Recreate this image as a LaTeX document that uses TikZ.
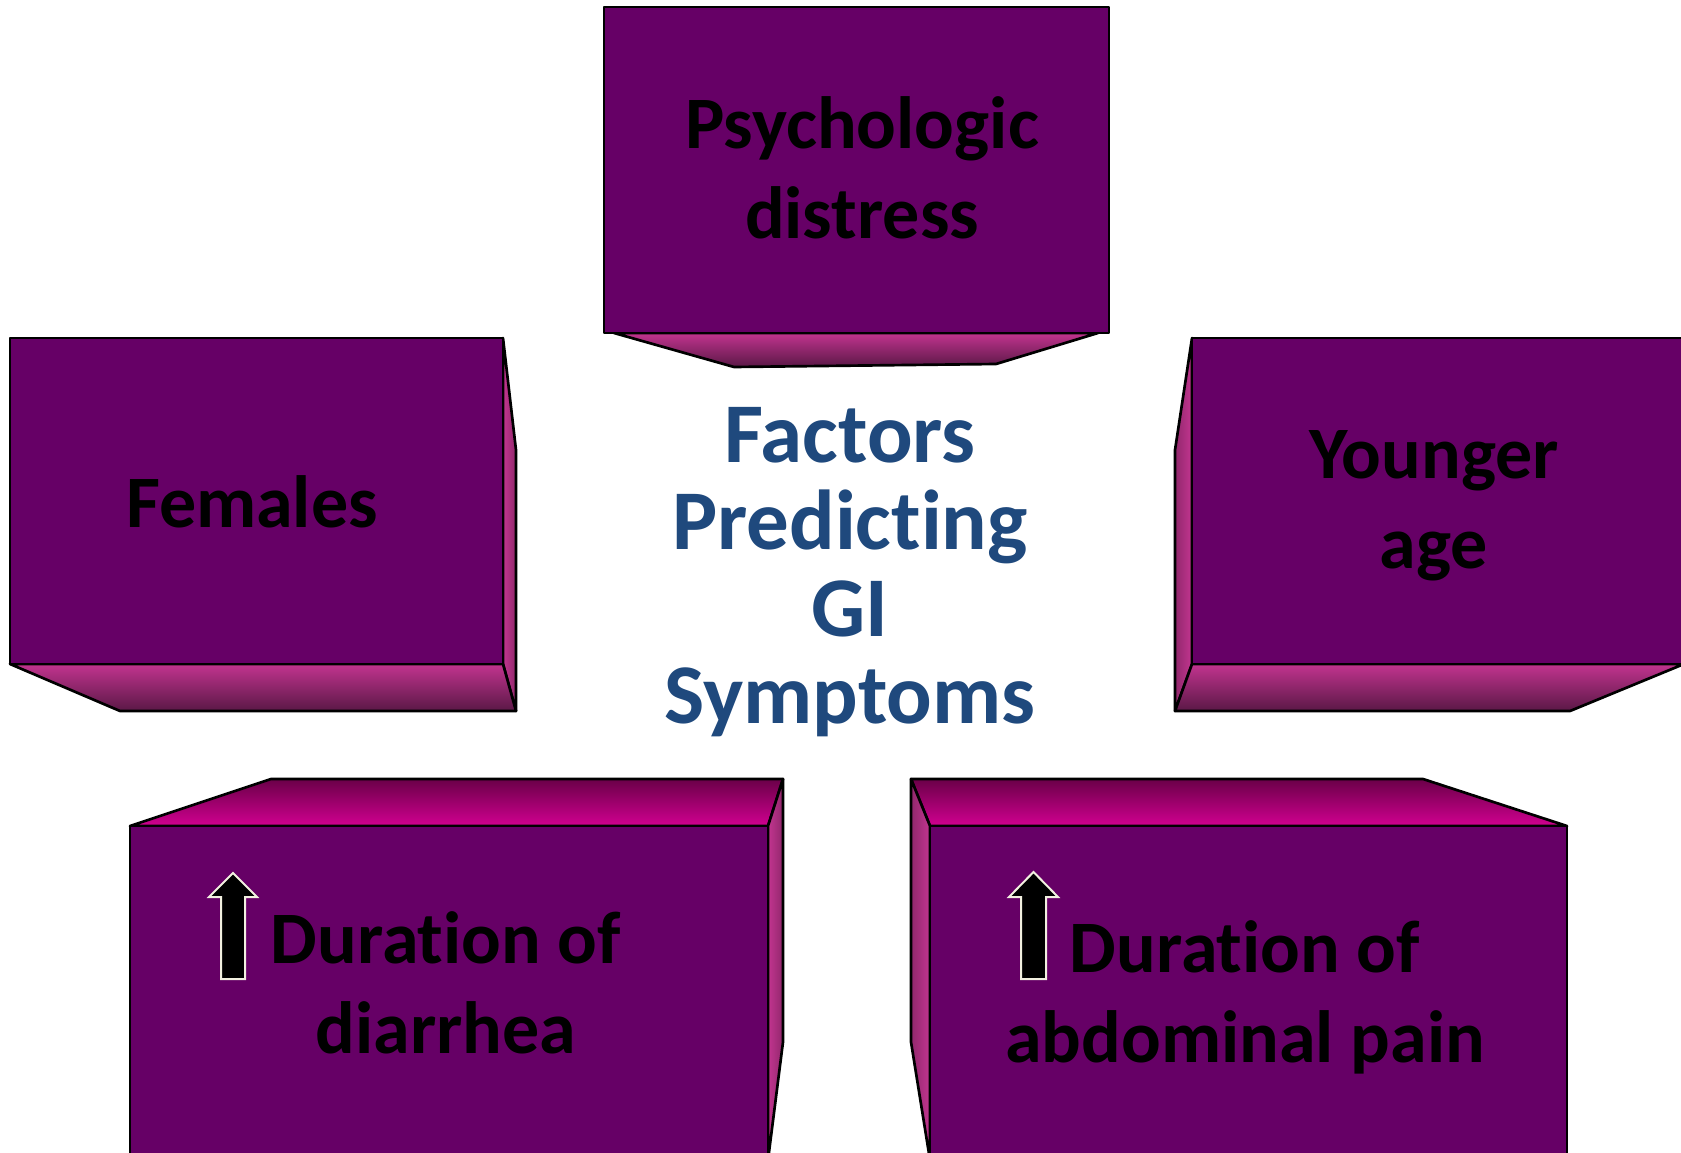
\documentclass[tikz,border=0pt]{standalone}
\usepackage{fontspec}
\setmainfont{Carlito}[Ligatures={NoCommon}]
\begin{document}
\begin{tikzpicture}[x=0.6pt,y=-0.6pt,line join=round]
\definecolor{boxfront}{HTML}{660066}
\definecolor{bevmag}{HTML}{C2348F}
\definecolor{bevdark}{HTML}{5A1846}
\definecolor{topdark}{HTML}{6A0048}
\definecolor{topmag}{HTML}{D10090}
\definecolor{sidemag}{HTML}{C23590}
\definecolor{titleblue}{HTML}{1F497D}
\definecolor{arrowedge}{HTML}{F2F0E0}
\tikzset{
  edge/.style={draw=black,line width=1.6pt},
  frontface/.style={fill=boxfront,draw=black,line width=1.6pt},
  underbevel/.style={edge,top color=bevmag,middle color=bevmag,bottom color=bevdark},
  overbevel/.style={edge,top color=topdark,middle color=topmag,bottom color=topmag},
  rightbevel/.style={edge,left color=sidemag,right color=sidemag!75!black},
  leftbevel/.style={edge,left color=sidemag!75!black,right color=sidemag},
  boxtext/.style={font=\fontsize{44.4}{54}\selectfont\bfseries,text=black,align=center,inner sep=0pt,anchor=base},
  titletext/.style={font=\fontsize{51}{52.2}\selectfont\bfseries,text=titleblue,align=center,inner sep=0pt,anchor=base},
  uparrow/.style={fill=black,draw=arrowedge,line width=1.2pt,line join=miter},
}
\path[use as bounding box] (0,0) rectangle (1681,1153);
\fill[white] (0,0) rectangle (1681,1153);
\clip (0,0) rectangle (1681,1153);

% top box
\shadedraw[underbevel] (614,333) -- (1098,333) -- (996,364) -- (734,367) -- cycle;
\path[frontface] (604,7) rectangle (1109,333);

% females box
\shadedraw[rightbevel] (503,338) -- (516,450) -- (516,711) -- (503,664) -- cycle;
\shadedraw[underbevel] (10,664) -- (503,664) -- (516,711) -- (120,711) -- cycle;
\path[frontface] (10,338) rectangle (503,664);

% younger box
\shadedraw[leftbevel] (1192,338) -- (1175,450) -- (1175,711) -- (1192,664) -- cycle;
\shadedraw[underbevel] (1192,664) -- (1684,664) -- (1570,711) -- (1175,711) -- cycle;
\path[frontface] (1192,338) rectangle (1684,664);

% diarrhea box
\shadedraw[overbevel] (130,826) -- (271,779) -- (783,779) -- (768,826) -- cycle;
\shadedraw[rightbevel] (768,826) -- (783,779) -- (783,1042) -- (768,1160) -- cycle;
\path[frontface] (130,826) rectangle (768,1160);

% abdominal box
\shadedraw[overbevel] (911,779) -- (1423,779) -- (1567,826) -- (930,826) -- cycle;
\shadedraw[leftbevel] (911,779) -- (930,826) -- (930,1160) -- (911,1042) -- cycle;
\path[frontface] (930,826) rectangle (1567,1160);

% arrows
\path[uparrow] (221,979) -- (221,897) -- (209,897) -- (233,873) -- (257,897) -- (245,897) -- (245,979) -- cycle;
\path[uparrow] (1021,979) -- (1021,897) -- (1009,897) -- (1033.5,872) -- (1058,897) -- (1046,897) -- (1046,979) -- cycle;

% texts (anchor base = baseline of last line)
\node[titletext] (title) at (850,723) {Factors\\Predicting\\GI\\Symptoms};
\node[boxtext] (psych) at (862,238) {Psychologic\\distress};
\node[boxtext] (females) at (252,527) {Females};
\node[boxtext] (younger) at (1434,568) {Younger\\age};
\node[boxtext] (diarrhea) at (446,1053) {Duration of\\diarrhea};
\node[boxtext] (abdominal) at (1245,1062) {Duration of\\abdominal pain};
\end{tikzpicture}
\end{document}
